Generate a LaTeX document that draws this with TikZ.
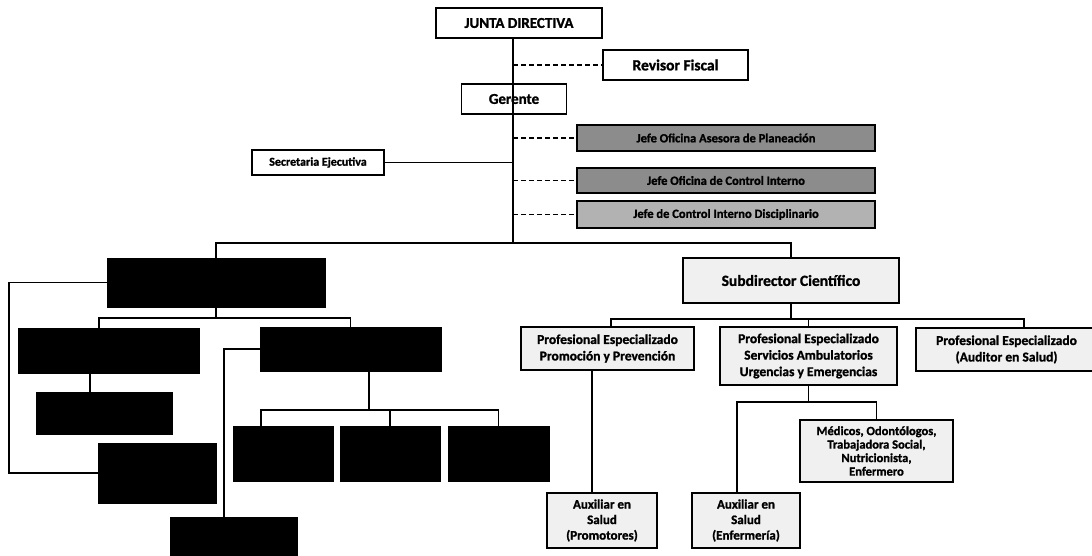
\documentclass[tikz,border=0pt]{standalone}
\usepackage{fontspec}
\setmainfont{Carlito}[BoldFeatures={FakeBold=1.3}]
\begin{document}
\begin{tikzpicture}[x=1pt,y=-1pt,
  box/.style={draw=black, line width=1.7pt, fill=white, inner sep=1pt, align=center, font=\bfseries},
  blk/.style={draw=black, fill=black, line width=1pt, inner sep=0pt},
  gry/.style={box, fill=black!45},
  lgt/.style={box, fill=black!6},
  conn/.style={line width=1.3pt},
  dsh/.style={line width=1.4pt, dash pattern=on 5pt off 3pt}]
\useasboundingbox (0,0) rectangle (1092,556);
\clip (0,0) rectangle (1092,556);
% top
\node[box, minimum width=166, minimum height=30, font=\bfseries\fontsize{15}{17}\selectfont] (junta) at (519,23) {JUNTA DIRECTIVA};
\node[box, minimum width=145, minimum height=30, font=\bfseries\fontsize{15.5}{17}\selectfont] (rev) at (675.5,65) {Revisor Fiscal};
\node[box, minimum width=105, minimum height=30, font=\bfseries\fontsize{15}{17}\selectfont] (ger) at (514,99) {Gerente};
\node[gry, minimum width=298, minimum height=26, font=\bfseries\fontsize{12.5}{14}\selectfont] (g1) at (726,138) {Jefe Oficina Asesora de Planeación};
\node[gry, minimum width=298, minimum height=25, font=\bfseries\fontsize{12.5}{14}\selectfont] (g2) at (726,180.5) {Jefe Oficina de Control Interno};
\node[gry, minimum width=298, minimum height=27, fill=black!30, font=\bfseries\fontsize{12.5}{14}\selectfont] (g3) at (726,214.5) {Jefe de Control Interno Disciplinario};
\node[box, minimum width=132, minimum height=25, font=\bfseries\fontsize{12}{14}\selectfont] (sec) at (318,162.5) {Secretaria Ejecutiva};
\coordinate (tr) at (513,243);
\draw[conn] (junta.south -| tr) -- (tr);
\draw[dsh] (rev.west -| tr) -- (rev.west);
\draw[dsh] (g1.west -| tr) -- (g1.west);
\draw[dsh] (g2.west -| tr) -- (g2.west);
\draw[dsh] (g3.west -| tr) -- (g3.west);
\draw[conn] (sec.east) -- (sec.east -| tr);
% left black boxes
\node[blk, minimum width=218, minimum height=49] (b1) at (216,282.5) {};
\node[blk, minimum width=181, minimum height=45] (b2) at (108.5,350.5) {};
\node[blk, minimum width=136, minimum height=42] (b2b) at (104,413) {};
\node[blk, minimum width=181, minimum height=44] (b3) at (350.5,349) {};
\node[blk, minimum width=118, minimum height=60] (b4) at (157,473) {};
\node[blk, minimum width=127, minimum height=49] (b5) at (233.5,541.5) {};
\node[blk, minimum width=100, minimum height=55] (b6) at (283,453.5) {};
\node[blk, minimum width=100, minimum height=55] (b7) at (390,453.5) {};
\node[blk, minimum width=101, minimum height=55] (b8) at (498.5,453.5) {};
% right boxes
\node[lgt, minimum width=216, minimum height=45, font=\bfseries\fontsize{15.5}{17}\selectfont] (sub) at (791,280.5) {Subdirector Científico};
\node[lgt, minimum width=173, minimum height=43, font=\bfseries\fontsize{13.5}{16.5}\selectfont] (prom) at (607.5,348.5) {Profesional Especializado\\Promoción y Prevención};
\node[lgt, minimum width=177, minimum height=58, font=\bfseries\fontsize{13.5}{16.5}\selectfont] (serv) at (808.5,356) {Profesional Especializado\\Servicios Ambulatorios\\Urgencias y Emergencias};
\node[lgt, minimum width=181, minimum height=43, font=\bfseries\fontsize{13.5}{16.5}\selectfont] (aud) at (1006.5,349.5) {Profesional Especializado\\(Auditor en Salud)};
\node[lgt, minimum width=153, minimum height=62, font=\bfseries\fontsize{12.5}{13.5}\selectfont] (med) at (876.5,451) {Médicos, Odontólogos,\\Trabajadora Social,\\Nutricionista,\\Enfermero};
\node[lgt, minimum width=110, minimum height=55, font=\bfseries\fontsize{13}{15.5}\selectfont] (auxp) at (602,520.5) {Auxiliar en\\Salud\\(Promotores)};
\node[lgt, minimum width=108, minimum height=55, font=\bfseries\fontsize{13}{15.5}\selectfont] (auxe) at (746,520.5) {Auxiliar en\\Salud\\(Enfermería)};
% main bus
\draw[conn] (b1.north) -- (b1.north |- tr) -- (sub.north |- tr) -- (sub.north);
% left connectors
\coordinate (lx) at (9,0);
\draw[conn] (b1.west) -- (b1.west -| lx) -- (b4.west -| lx) -- (b4.west);
\coordinate (bus1) at (0,318);
\coordinate (t2) at ([xshift=-9.5pt]b2.north);
\draw[conn] (b1.south) -- (b1.south |- bus1);
\draw[conn] (t2) -- (t2 |- bus1) -- (b3.north |- bus1) -- (b3.north);
\coordinate (t2b) at ([xshift=-14pt]b2b.north);
\draw[conn] (t2b) -- (t2b |- b2.south);
\coordinate (t5) at ([xshift=-9.5pt]b5.north);
\draw[conn] (b3.west) -- (b3.west -| t5) -- (t5);
\coordinate (bus2) at (0,410);
\coordinate (s3) at ([xshift=18.5pt]b3.south);
\coordinate (t6) at ([xshift=-22pt]b6.north);
\draw[conn] (s3) -- (s3 |- bus2);
\draw[conn] (t6) -- (t6 |- bus2) -- (b8.north |- bus2) -- (b8.north);
\draw[conn] (b7.north) -- (b7.north |- bus2);
% right connectors
\coordinate (bus3) at (0,319);
\coordinate (tp) at ([xshift=3.5pt]prom.north);
\coordinate (ta) at ([xshift=17.5pt]aud.north);
\draw[conn] (sub.south) -- (sub.south |- bus3);
\draw[conn] (tp) -- (tp |- bus3) -- (ta |- bus3) -- (ta);
\draw[conn] (serv.north) -- (serv.north |- bus3);
\coordinate (tap) at ([xshift=-10pt]auxp.north);
\draw[conn] (tap) -- (tap |- prom.south);
\coordinate (bus4) at (0,402);
\coordinate (tae) at ([xshift=-9pt]auxe.north);
\draw[conn] (serv.south) -- (serv.south |- bus4);
\draw[conn] (tae) -- (tae |- bus4) -- (med.north |- bus4) -- (med.north);
\end{tikzpicture}
\end{document}
